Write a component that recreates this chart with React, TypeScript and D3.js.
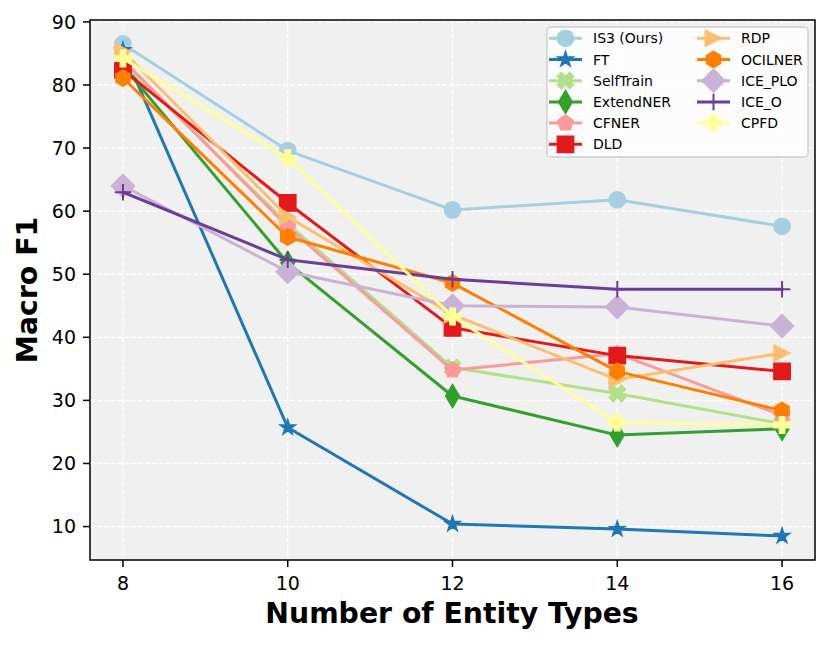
import * as d3 from "d3";

const xs = [8, 10, 12, 14, 16];
const names = ["IS3 (Ours)", "FT", "SelfTrain", "ExtendNER", "CFNER", "DLD", "RDP", "OCILNER", "ICE_PLO", "ICE_O", "CPFD"];
const colors = ["#a6cee3", "#1f78b4", "#b2df8a", "#33a02c", "#fb9a99", "#e31a1c", "#fdbf6f", "#ff7f00", "#cab2d6", "#6a3d9a", "#ffff99"];
const markers = ["o", "*", "X", "d", "p", "s", ">", "h", "D", "+", "P"];

const is3 = [86.5, 69.6, 60.2, 61.8, 57.6];
const ft = [85.5, 25.7, 10.4, 9.6, 8.5];
const selfTrain = [83.5, 58.0, 35.2, 31.1, 26.3];
const extendNer = [83.0, 51.8, 30.7, 24.5, 25.5];
const cfner = [84.0, 57.5, 34.8, 37.4, 27.6];
const dld = [82.4, 61.3, 41.5, 37.1, 34.6];
const rdp = [85.3, 59.1, 43.6, 33.3, 37.5];
const ocilner = [81.1, 55.9, 48.6, 34.6, 28.4];
const icePlo = [64.0, 50.4, 45.0, 44.8, 41.8];
const iceO = [63.0, 52.3, 49.2, 47.6, 47.6];
const cpfd = [84.2, 68.4, 43.3, 26.5, 26.1];

const series = [is3, ft, selfTrain, extendNer, cfner, dld, rdp, ocilner, icePlo, iceO, cpfd];

const xTicks = [8, 10, 12, 14, 16];
const yTicks = [10, 20, 30, 40, 50, 60, 70, 80, 90];

const W = 830;
const H = 645;
const left = 90, right = 815, top = 20, bottom = 560;
const font = "'DejaVu Sans', sans-serif";

const x = d3.scaleLinear().domain([7.6, 16.4]).range([left, right]);
const y = d3.scaleLinear().domain([4.7, 90.3]).range([bottom, top]);

const MS = 16.5;

function poly(pts: [number, number][]) {
  return "M" + pts.map((p) => p[0].toFixed(2) + "," + p[1].toFixed(2)).join("L") + "Z";
}

function regular(n: number, r: number, inner?: number) {
  const pts: [number, number][] = [];
  const k = inner ? n * 2 : n;
  for (let i = 0; i < k; i++) {
    const a = -Math.PI / 2 + (i * 2 * Math.PI) / k;
    const rr = inner && i % 2 === 1 ? r * inner : r;
    pts.push([rr * Math.cos(a), rr * Math.sin(a)]);
  }
  return poly(pts);
}

function markerPath(m: string, s: number) {
  const h = s / 2;
  switch (m) {
    case "o":
      return d3.symbol(d3.symbolCircle, Math.PI * h * h)() as string;
    case "*":
      return regular(5, h, 0.381966);
    case "p":
      return regular(5, h);
    case "h":
      return regular(6, h);
    case "s":
      return poly([[-h, -h], [h, -h], [h, h], [-h, h]]);
    case "D": {
      const r = s * Math.SQRT1_2;
      return poly([[0, -r], [r, 0], [0, r], [-r, 0]]);
    }
    case "d": {
      const r = s * Math.SQRT1_2;
      return poly([[0, -r], [0.6 * r, 0], [0, r], [-0.6 * r, 0]]);
    }
    case ">":
      return poly([[h, 0], [-h, -h], [-h, h]]);
    case "P": {
      const pts: [number, number][] = [
        [-1, -3], [1, -3], [1, -1], [3, -1], [3, 1], [1, 1],
        [1, 3], [-1, 3], [-1, 1], [-3, 1], [-3, -1], [-1, -1],
      ];
      return poly(pts.map((p) => [(p[0] / 6) * s, (p[1] / 6) * s]));
    }
    case "X": {
      const pts: [number, number][] = [
        [-1, -2], [0, -1], [1, -2], [2, -1], [1, 0], [2, 1],
        [1, 2], [0, 1], [-1, 2], [-2, 1], [-1, 0], [-2, -1],
      ];
      return poly(pts.map((p) => [(p[0] / 4) * s, (p[1] / 4) * s]));
    }
    case "+":
      return `M${-h},0L${h},0M0,${-h}L0,${h}`;
  }
  return "";
}

function Marker({ m, c, cx, cy }: { m: string; c: string; cx: number; cy: number }) {
  const d = markerPath(m, MS);
  if (m === "+") {
    return <path d={d} transform={`translate(${cx},${cy})`} fill="none" stroke={c} strokeWidth={2} />;
  }
  return <path d={d} transform={`translate(${cx},${cy})`} fill={c} stroke={c} strokeWidth={1.3} strokeLinejoin="miter" />;
}

export default function App() {
  const line = d3
    .line<number>()
    .x((_, i) => x(xs[i]))
    .y((v) => y(v));

  const legX = [549, 697];
  const legY0 = 38.3;
  const legDy = 21.2;

  return (
    <svg width={W} height={H} style={{ position: "absolute", left: 0, top: 0 }} fontFamily={font}>
      <rect x={0} y={0} width={W} height={H} fill="#ffffff" />
      <rect x={left} y={top} width={right - left} height={bottom - top} fill="#f0f0f0" />
      {xTicks.map((t) => (
        <line key={"gx" + t} x1={x(t)} x2={x(t)} y1={top} y2={bottom} stroke="#ffffff" strokeWidth={1.3} strokeDasharray="4.8,2.1" />
      ))}
      {yTicks.map((t) => (
        <line key={"gy" + t} x1={left} x2={right} y1={y(t)} y2={y(t)} stroke="#ffffff" strokeWidth={1.3} strokeDasharray="4.8,2.1" />
      ))}

      {series.map((vals, i) => (
        <g key={names[i]}>
          <path d={line(vals) as string} fill="none" stroke={colors[i]} strokeWidth={3} strokeLinejoin="round" strokeLinecap="square" />
          {vals.map((v, j) => (
            <Marker key={j} m={markers[i]} c={colors[i]} cx={x(xs[j])} cy={y(v)} />
          ))}
        </g>
      ))}

      <rect x={left} y={top} width={right - left} height={bottom - top} fill="none" stroke="#000000" strokeWidth={1.5} />

      {xTicks.map((t) => (
        <g key={"tx" + t}>
          <line x1={x(t)} x2={x(t)} y1={bottom} y2={bottom + 7} stroke="#000" strokeWidth={1.5} />
          <text x={x(t)} y={590} textAnchor="middle" fontSize={19}>
            {t}
          </text>
        </g>
      ))}
      {yTicks.map((t) => (
        <g key={"ty" + t}>
          <line x1={left - 7} x2={left} y1={y(t)} y2={y(t)} stroke="#000" strokeWidth={1.5} />
          <text x={76} y={y(t)} dy="0.36em" textAnchor="end" fontSize={19}>
            {t}
          </text>
        </g>
      ))}

      <text x={452} y={623} textAnchor="middle" fontSize={28.3} fontWeight="bold">
        Number of Entity Types
      </text>
      <text transform={`translate(37,${(top + bottom) / 2}) rotate(-90)`} textAnchor="middle" fontSize={28.3} fontWeight="bold">
        Macro F1
      </text>

      <rect x={547} y={27} width={261} height={130} rx={4} fill="#ffffff" fillOpacity={0.8} stroke="#cccccc" strokeWidth={1.3} />
      {names.map((n, i) => {
        const col = i < 6 ? 0 : 1;
        const row = i < 6 ? i : i - 6;
        const lx = legX[col];
        const ly = legY0 + row * legDy;
        return (
          <g key={"leg" + n}>
            <line x1={lx} x2={lx + 33} y1={ly} y2={ly} stroke={colors[i]} strokeWidth={3} />
            <Marker m={markers[i]} c={colors[i]} cx={lx + 16.5} cy={ly} />
            <text x={lx + 44} y={ly} dy="0.36em" fontSize={14}>
              {n}
            </text>
          </g>
        );
      })}
    </svg>
  );
}
